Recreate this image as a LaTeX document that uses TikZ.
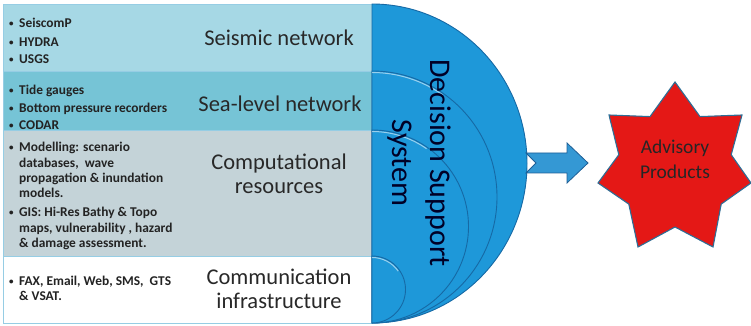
\documentclass[tikz,border=0pt]{standalone}
\usepackage{fontspec}
\setmainfont{Carlito}
\definecolor{seisfill}{RGB}{166,216,229}
\definecolor{seafill}{RGB}{118,196,214}
\definecolor{compfill}{RGB}{196,211,216}
\definecolor{commfill}{RGB}{255,255,255}
\definecolor{panelline}{RGB}{150,205,228}
\definecolor{itemtext}{RGB}{35,35,35}
\definecolor{headtext}{RGB}{40,40,40}
\definecolor{dssblue}{RGB}{30,152,217}
\definecolor{dssedge}{RGB}{22,105,165}
\definecolor{arrowfill}{RGB}{52,152,212}
\definecolor{arrowedge}{RGB}{30,95,150}
\definecolor{starfill}{RGB}{228,24,22}
\definecolor{staredge}{RGB}{45,110,150}
\begin{document}
\begin{tikzpicture}[x=1pt,y=1pt,
  panel/.style={draw=panelline, line width=0.8pt},
  item/.style={anchor=base west, inner sep=0pt,
    font=\fontsize{13.4}{15.3}\selectfont\bfseries, text=itemtext},
  bulletmark/.style={anchor=base west, inner sep=0pt,
    font=\fontsize{9}{10}\selectfont\bfseries, text=itemtext},
  heading/.style={align=center, inner sep=0pt,
    font=\fontsize{22.5}{24}\selectfont, text=headtext},
  shell/.style={fill=dssblue, draw=dssedge, line width=0.9pt},
  gloss/.style={draw=white, opacity=0.55, line width=1pt},
  dsslabel/.style={rotate=-90, inner sep=0pt,
    font=\fontsize{30}{36}\selectfont, text=black!85!blue},
  ]
\useasboundingbox (0,0) rectangle (751,326);

% input panels
\fill[seisfill, panel] (3,255) rectangle (372,322);
\fill[seafill,  panel] (3,196) rectangle (372,255);
\fill[compfill, panel] (3,70)  rectangle (372,196);
\fill[commfill, panel] (3,3)   rectangle (372,70);

% decision support shells
\path[shell] (372,322) arc[start angle=90, end angle=-90, x radius=155, y radius=159.5] -- cycle;
\path[shell] (372,255) arc[start angle=90, end angle=-90, x radius=125, y radius=126] -- cycle;
\draw[gloss] (372,253.5) arc[start angle=90, end angle=55, x radius=123.5, y radius=124.5];
\path[shell] (372,196) arc[start angle=90, end angle=-90, x radius=96.5, y radius=96.5] -- cycle;
\draw[gloss] (372,194.5) arc[start angle=90, end angle=55, x radius=95, y radius=95];
\path[shell] (372,70) arc[start angle=90, end angle=-90, x radius=33.5, y radius=33.5] -- cycle;
\draw[gloss] (372,68.5) arc[start angle=90, end angle=35, x radius=32, y radius=32];

% bullets and items
\foreach \nm/\y/\txt in {s1/298.8/SeiscomP, s2/279.8/HYDRA, s3/262/USGS,
    t1/231.3/Tide gauges, t2/213/Bottom pressure recorders, t3/196.8/CODAR,
    m1/174.3/{Modelling: scenario}, g1/109/{GIS: Hi-Res Bathy \& Topo},
    f1/40/{FAX, Email, Web, SMS,\ \ GTS}}{
  \node[bulletmark] (b\nm) at (9,\y+1) {\textbullet};
  \node[item] (\nm) at (19,\y) {\txt};
}
\node[item] (m2) at (19,158.5) {databases,\ \ wave};
\node[item] (m3) at (19,143) {propagation \& inundation};
\node[item] (m4) at (19,128) {models.};
\node[item] (g2) at (19,93) {maps, vulnerability , hazard};
\node[item] (g3) at (19,78) {\& damage assessment.};
\node[item] (f2) at (19,25) {\& VSAT.};

% panel headings
\node[heading] (seismic) at (279,288) {Seismic network};
\node[heading] (sealevel) at (280,222) {Sea-level network};
\node[heading] (comp) at (279,152.5) {Computational\\resources};
\node[heading] (comm) at (279,37.5) {Communication\\infrastructure};

% decision support label
\node[dsslabel] (dss1) at (438,163) {Decision Support};
\node[dsslabel] (dss2) at (400,163) {System};

% output arrow
\draw[fill=arrowfill, draw=arrowedge, line width=0.8pt, line join=miter]
  (526,173) -- (567,173) -- (567,183) -- (588,163) -- (567,143)
  -- (567,153) -- (526,153) -- (536,163) -- cycle;

% advisory products star
\draw[fill=starfill, draw=staredge, line width=1.1pt, line join=miter]
  (675,244) -- (700,209.4) -- (742,211) -- (731.2,171.3) -- (751,143)
  -- (721.2,121.9) -- (713,79) -- (675,99) -- (638,79) -- (628.8,121.9)
  -- (598,143) -- (618.8,171.3) -- (609,211) -- (650,209.4) -- cycle;
\node[align=center, inner sep=0pt, font=\fontsize{19.5}{25}\selectfont, text=black!85]
  (advisory) at (675,166.5) {Advisory\\Products};
\end{tikzpicture}
\end{document}
